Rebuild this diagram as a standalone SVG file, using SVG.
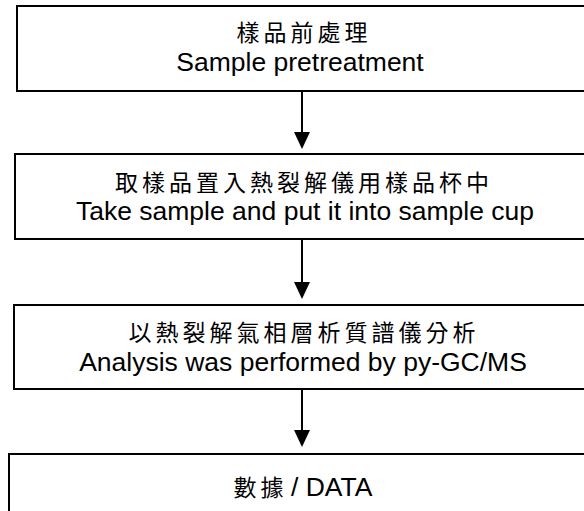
<svg xmlns="http://www.w3.org/2000/svg" width="584" height="511" viewBox="0 0 584 511">
<defs>
<style>
.box{fill:#fff;stroke:#000;stroke-width:2}
.en{font-family:"Liberation Sans",Arial,sans-serif;font-size:26.5px;fill:#000;text-anchor:middle}
.zh{font-family:"Noto Sans CJK TC","Noto Sans CJK SC",serif;font-size:23px;fill:#000;text-anchor:middle;letter-spacing:4px}
.ln{stroke:#000;stroke-width:2;fill:none}
.hd{fill:#000}
</style>
</defs>
<rect width="584" height="511" fill="#fff"/>
<g id="connectors">
<line class="ln" x1="302" y1="91" x2="302" y2="134"/>
<polygon class="hd" points="294,132 310,132 302,149"/>
<line class="ln" x1="302" y1="239" x2="302" y2="284"/>
<polygon class="hd" points="294,282 310,282 302,299"/>
<line class="ln" x1="302" y1="389" x2="302" y2="432"/>
<polygon class="hd" points="294,430 310,430 302,447"/>
</g>
<g id="node1">
<rect class="box" x="17" y="6" width="620" height="85"/>
<text class="zh" x="304" y="41">樣品前處理</text>
<text class="en" x="300" y="71">Sample pretreatment</text>
</g>
<g id="node2">
<rect class="box" x="15" y="154" width="620" height="85"/>
<text class="zh" x="304" y="191">取樣品置入熱裂解儀用樣品杯中</text>
<text class="en" x="305" y="220">Take sample and put it into sample cup</text>
</g>
<g id="node3">
<rect class="box" x="14" y="305" width="620" height="84"/>
<text class="zh" x="304" y="341">以熱裂解氣相層析質譜儀分析</text>
<text class="en" x="303" y="371">Analysis was performed by py-GC/MS</text>
</g>
<g id="node4">
<rect class="box" x="9" y="454" width="620" height="80"/>
<text x="303" y="496" style="text-anchor:middle;font-size:26.5px;font-family:'Liberation Sans','Noto Sans CJK TC',sans-serif"><tspan style="font-family:'Noto Sans CJK TC',sans-serif;font-size:23px;letter-spacing:4px">數</tspan><tspan style="font-family:'Noto Sans CJK TC',sans-serif;font-size:23px">據</tspan> / DATA</text>
</g>
</svg>
